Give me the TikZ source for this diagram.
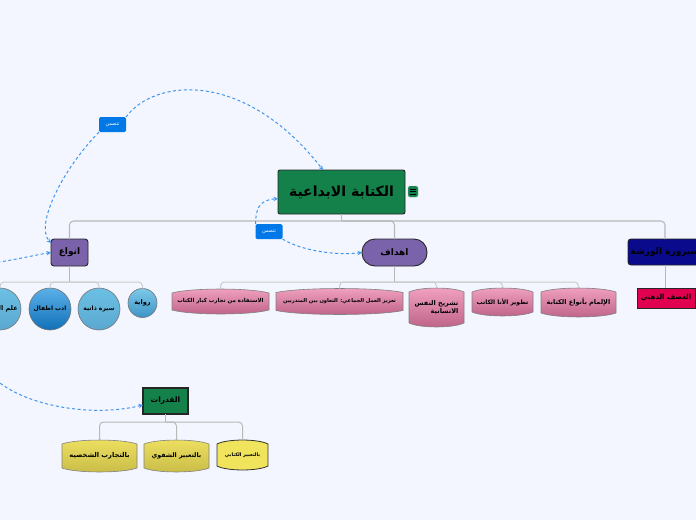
\documentclass[tikz,border=0pt]{standalone}
\usepackage{fontspec}
\usepackage{tikz}
\usetikzlibrary{shapes, arrows, calc, positioning}

\newfontfamily\arabicfont[Script=Arabic]{DejaVu Sans}
\TeXXeTstate=1
\newcommand{\ar}[1]{{\arabicfont\beginR #1\endR}}

\definecolor{pagebg}{HTML}{F3F6FF}
\definecolor{rootgreen}{HTML}{14804A}
\definecolor{topicpurple}{HTML}{7B63AB}
\definecolor{topicblue}{HTML}{0A0A8C}
\definecolor{crimson}{HTML}{E0004F}
\definecolor{linkblue}{HTML}{3F94EE}
\definecolor{tagblue}{HTML}{0078E7}
\definecolor{pinkA}{HTML}{F2A2C0}
\definecolor{pinkB}{HTML}{BE6288}
\definecolor{yellowA}{HTML}{EEE060}
\definecolor{yellowB}{HTML}{C8BC48}
\definecolor{yellowC}{HTML}{F0E45C}
\definecolor{ballA}{HTML}{7CC8E8}
\definecolor{ballB}{HTML}{3F94C8}
\definecolor{ballC}{HTML}{6CC0E4}
\definecolor{ballD}{HTML}{5AA8D0}
\definecolor{ballE}{HTML}{5CB0E8}
\definecolor{ballF}{HTML}{1070B8}

% box with bowed top and bottom edges
\newdimen\bulgexl \newdimen\bulgexr \newdimen\bulgeyb \newdimen\bulgeyt \newdimen\bulgedx
\makeatletter
\pgfdeclareshape{bulgebox}{
	\inheritsavedanchors[from=rectangle]
	\inheritanchorborder[from=rectangle]
	\inheritanchor[from=rectangle]{center}
	\inheritanchor[from=rectangle]{north}
	\inheritanchor[from=rectangle]{south}
	\inheritanchor[from=rectangle]{east}
	\inheritanchor[from=rectangle]{west}
	\backgroundpath{
		\southwest \bulgexl=\pgf@x \bulgeyb=\pgf@y
		\northeast \bulgexr=\pgf@x \bulgeyt=\pgf@y
		\bulgedx=\bulgexr \advance\bulgedx by -\bulgexl \bulgedx=0.2\bulgedx
		\pgfpathmoveto{\pgfqpoint{\bulgexl}{\dimexpr\bulgeyb+4pt\relax}}
		\pgfpathlineto{\pgfqpoint{\bulgexl}{\dimexpr\bulgeyt-4pt\relax}}
		\pgfpathcurveto{\pgfqpoint{\dimexpr\bulgexl+\bulgedx\relax}{\dimexpr\bulgeyt+1.3pt\relax}}{\pgfqpoint{\dimexpr\bulgexr-\bulgedx\relax}{\dimexpr\bulgeyt+1.3pt\relax}}{\pgfqpoint{\bulgexr}{\dimexpr\bulgeyt-4pt\relax}}
		\pgfpathlineto{\pgfqpoint{\bulgexr}{\dimexpr\bulgeyb+4pt\relax}}
		\pgfpathcurveto{\pgfqpoint{\dimexpr\bulgexr-\bulgedx\relax}{\dimexpr\bulgeyb-1.3pt\relax}}{\pgfqpoint{\dimexpr\bulgexl+\bulgedx\relax}{\dimexpr\bulgeyb-1.3pt\relax}}{\pgfqpoint{\bulgexl}{\dimexpr\bulgeyb+4pt\relax}}
		\pgfpathclose
	}
}
\makeatother

\begin{document}
\begin{tikzpicture}[x=1pt, y=-1pt, >=stealth]
	\tikzstyle{txt} = [font=\fontsize{#1}{#1}\selectfont\bfseries, align=right, text=black]
	\tikzstyle{topic} = [draw=black!85, line width=0.9pt, rounded corners=3pt, inner sep=0pt, outer sep=0pt]
	\tikzstyle{kidpink} = [shape=bulgebox, draw=black!50, line width=0.6pt, top color=pinkA, bottom color=pinkB, inner sep=0pt, outer sep=0pt]
	\tikzstyle{kidyellow} = [shape=bulgebox, draw=black!50, line width=0.6pt, top color=yellowA, bottom color=yellowB, inner sep=0pt, outer sep=0pt]
	\tikzstyle{ball} = [circle, draw=black!55, line width=0.6pt, inner sep=0pt, outer sep=0pt]
	\tikzstyle{tag} = [fill=tagblue, rounded corners=1.5pt, minimum width=27pt, minimum height=15pt, inner sep=0pt, outer sep=0pt, text=white, font=\fontsize{5}{5}\selectfont]
	\tikzstyle{branch} = [draw=black!28, line width=1pt, rounded corners=4pt]
	\tikzstyle{link} = [->, draw=linkblue, line width=1pt, dash pattern=on 3pt off 2.5pt]

	\path[use as bounding box, fill=pagebg] (0,0) rectangle (696,520);
	\clip (0,0) rectangle (696,520);

	% main nodes
	\node[topic, fill=rootgreen, rounded corners=2pt, minimum width=127pt, minimum height=44pt, txt=14] (root) at (341.5,192) {\ar{الكتابة الابداعية}};
	\node[draw=rootgreen!50, fill=rootgreen, rounded corners=1.5pt, minimum width=10pt, minimum height=11pt, inner sep=0pt] (note) at (413,191.5) {};
	\foreach \y in {-2.5,0,2.5}
		\draw[black, line width=0.8pt] ($(note.center)+(-3,\y)$) -- ($(note.center)+(3,\y)$);

	\node[topic, fill=topicpurple, minimum width=37pt, minimum height=27pt, txt=9] (anwa) at (69.5,252.5) {\ar{انواع}};
	\node[topic, fill=topicpurple, rounded corners=13pt, minimum width=65pt, minimum height=27pt, txt=9] (ahdaf) at (394.5,252.5) {\ar{اهداف}};
	\node[topic, fill=topicblue, minimum width=74pt, minimum height=26pt, txt=9] (sayrura) at (665,252) {\ar{سيرورة الورشة}};
	\node[topic, fill=crimson, rounded corners=0pt, minimum width=58pt, minimum height=20pt, txt=7] (asf) at (666,298) {\ar{العصف الذهني}};
	\node[topic, fill=rootgreen, rounded corners=0pt, line width=1.2pt, minimum width=45pt, minimum height=26pt, txt=7.5] (qudrat) at (165.5,401) {\ar{القدرات}};

	% anwa children
	\node[ball, top color=ballA, bottom color=ballB, minimum size=29pt, txt=6.5] (riwaya) at (142.5,303) {\ar{رواية}};
	\node[ball, top color=ballC, bottom color=ballD, minimum size=42pt, txt=6] (sira) at (99,309) {\ar{سيرة ذاتية}};
	\node[ball, top color=ballE, bottom color=ballF, minimum size=42pt, txt=6] (adab) at (50,309) {\ar{ادب اطفال}};
	\node[ball, top color=ballC, bottom color=ballD, minimum size=42pt, txt=6.5] (ilm) at (0,309) {\ar{علم النفس}};

	% ahdaf children
	\node[kidpink, minimum width=97pt, minimum height=25pt, txt=5.5] (istifada) at (220.5,301.5) {\ar{الاستفادة من تجارب كبار الكتاب}};
	\node[kidpink, minimum width=127pt, minimum height=26pt, txt=5.2] (taziz) at (339.5,301.5) {\ar{تعزيز العمل الجماعي: التعاون بين المتدربين}};
	\node[kidpink, minimum width=55pt, minimum height=39pt, txt=6.5] (tashrih) at (436.5,307.5) {\ar{تشريح النفس}\\[1pt]\ar{الانسانية}};
	\node[kidpink, minimum width=61pt, minimum height=28pt, txt=6] (tatwir) at (502.5,302) {\ar{تطوير الأنا الكاتب}};
	\node[kidpink, minimum width=75pt, minimum height=29pt, txt=6.5] (ilmam) at (578.5,302.5) {\ar{الإلمام بأنواع الكتابة}};

	% qudrat children
	\node[kidyellow, minimum width=75pt, minimum height=32pt, txt=6.7] (tajarib) at (99.5,456) {\ar{بالتجارب الشخصيه}};
	\node[kidyellow, minimum width=65pt, minimum height=32pt, txt=6.3] (shafawi) at (176.5,456) {\ar{بالتعبير الشفوي}};
	\node[shape=bulgebox, draw=black!80, line width=0.8pt, fill=yellowC, minimum width=51pt, minimum height=30pt, inner sep=0pt, outer sep=0pt, txt=4.8] (kitabi) at (242.5,455) {\ar{بالتعبير الكتابي}};

	% tree lines
	\coordinate (rootbar) at ($(root.south)+(0,7)$);
	\coordinate (anwabar) at ($(anwa.south)+(0,16)$);
	\coordinate (ahdafbar) at ($(ahdaf.south)+(0,16)$);
	\coordinate (qudratbar) at ($(qudrat.south)+(0,8)$);

	\draw[branch, line width=1.1pt] (root.south) -- (rootbar);
	\foreach \kid in {anwa, ahdaf, sayrura}
		\draw[branch, line width=1.1pt] (rootbar) -| (\kid.north);
	\draw[branch] (sayrura.south) -- (sayrura.south |- asf.north);

	\draw[branch] (anwa.south) -- (anwabar);
	\foreach \kid in {riwaya, sira, adab, ilm}
		\draw[branch, draw=black!20] (anwabar) -| (\kid.north);

	\draw[branch] (ahdaf.south) -- (ahdafbar);
	\foreach \kid in {istifada, taziz, tashrih, tatwir, ilmam}
		\draw[branch, draw=black!20] (ahdafbar) -| (\kid.north);

	\draw[branch] (qudrat.south) -- (qudratbar);
	\foreach \kid in {tajarib, shafawi, kitabi}
		\draw[branch] (qudratbar) -| (\kid.north);

	% links and their tags
	\node[tag] (tagone) at (112.5,124.5) {\ar{تتضمن}};
	\node[tag] (tagtwo) at (269,231.5) {\ar{تتضمن}};
	\coordinate (offtop) at (-8,263);
	\coordinate (offlow) at (-8,376);

	\draw[link] (tagone.north east) .. controls (155,78) and (245,70) .. (root.130);
	\draw[link] (tagone.south west) .. controls (62,170) and (35,225) .. (anwa.153);
	\draw[link] (tagtwo.north west) .. controls (256,210) and (258,200) .. (root.186);
	\draw[link] (tagtwo.south east) .. controls (300,250) and (335,256) .. (ahdaf.west);
	\draw[link] (offtop) .. controls (15,260) and (35,255) .. (anwa.west);
	\draw[link] (offlow) .. controls (20,405) and (90,418) .. (qudrat.190);
\end{tikzpicture}
\end{document}
